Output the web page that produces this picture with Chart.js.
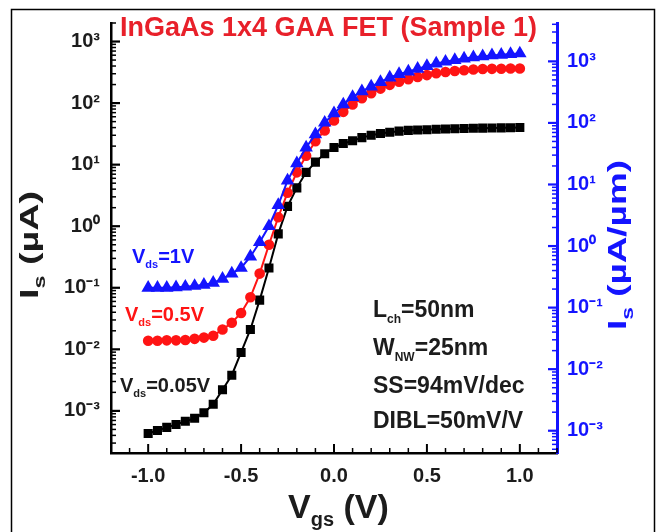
<!DOCTYPE html>
<html><head><meta charset="utf-8">
<script src="https://cdn.jsdelivr.net/npm/chart.js@4.4.1/dist/chart.umd.min.js"></script>
<style>html,body{margin:0;padding:0;background:#fff}#wrap{position:relative;width:660px;height:532px}</style>
</head><body><div id="wrap"><canvas id="c" width="660" height="532"></canvas></div>
<script>
// ---- data ----
const vgs = [-1.00,-0.95,-0.90,-0.85,-0.80,-0.75,-0.70,-0.65,-0.60,-0.55,-0.50,-0.45,-0.40,-0.35,-0.30,-0.25,-0.20,-0.15,-0.10,-0.05,0.00,0.05,0.10,0.15,0.20,0.25,0.30,0.35,0.40,0.45,0.50,0.55,0.60,0.65,0.70,0.75,0.80,0.85,0.90,0.95,1.00];
const isVds005 = [4.3e-4,4.8e-4,5.4e-4,6.0e-4,6.8e-4,7.6e-4,9.3e-4,1.28e-3,2.2e-3,3.8e-3,8.9e-3,0.021,0.063,0.21,0.75,2.1,4.2,7.5,11,15,19,22,24.5,27.5,30,32,33.5,35,36,36.5,37,37.5,38,38.3,38.6,39,39.2,39.4,39.6,39.8,40];
const isVds05 = [0.0138,0.0138,0.014,0.014,0.0142,0.0148,0.0155,0.0166,0.021,0.027,0.039,0.07,0.17,0.5,1.4,3.5,7.5,14,24,36,52,72,95,120,145,172,198,222,245,265,285,305,320,332,342,352,357,360,362,364,365];
const isVds1 = [0.1,0.1,0.1,0.102,0.104,0.107,0.112,0.12,0.14,0.17,0.21,0.32,0.55,1.0,2.2,5.5,10.5,19,31,48,68,95,125,155,185,220,260,295,325,360,400,440,470,500,530,555,575,595,610,625,640];
const xTickValues = [-1.0,-0.5,0.0,0.5,1.0];
const xTickLabels = ['-1.0','-0.5','0.0','0.5','1.0'];
const yDecades = [1e-3,1e-2,1e-1,1,1e1,1e2,1e3];
const yTickLabels = ['10\u207B\u00B3','10\u207B\u00B2','10\u207B\u00B9','10\u2070','10\u00B9','10\u00B2','10\u00B3'];
const leftMin = 2.07e-4, leftMax = 2000;   // I_s (µA) axis range
const perWireFactor = 2.1;                  // right axis (µA/µm) = left × factor

const FONT = '"Liberation Sans", Arial, Helvetica, sans-serif';
const BLUE = '#1414ff', RED = '#ff1414', BLACK = '#000000', TXT = '#1c1c1c';

function decadeLabel(v){
  const i = yDecades.findIndex(d => Math.abs(Math.log10(d) - Math.log10(v)) < 1e-6);
  return i >= 0 ? yTickLabels[i] : '';
}

function rich(ctx, parts, x, y, color){
  let cx = x;
  ctx.fillStyle = color;
  ctx.textBaseline = 'alphabetic';
  ctx.textAlign = 'left';
  for (const p of parts){
    ctx.font = 'bold ' + p.s + 'px ' + FONT;
    ctx.fillText(p.t, cx, y + (p.dy || 0));
    cx += ctx.measureText(p.t).width;
  }
  return cx - x;
}
function richWidth(ctx, parts){
  let w = 0;
  for (const p of parts){ ctx.font = 'bold ' + p.s + 'px ' + FONT; w += ctx.measureText(p.t).width; }
  return w;
}

const deco = {
  id: 'deco',
  beforeDraw(chart){
    const c = chart.ctx;
    c.save();
    c.fillStyle = '#fff'; c.fillRect(0,0,chart.width,chart.height);
    c.strokeStyle = '#000'; c.lineWidth = 1.5;
    c.strokeRect(11.5, 9.5, 643, 600);
    c.restore();
  },
  afterDraw(chart){
    const c = chart.ctx, a = chart.chartArea, sx = chart.scales.x, sy = chart.scales.y, sy2 = chart.scales.y2;
    c.save();
    // inward ticks, left axis
    c.strokeStyle = BLACK;
    for (let n = -4; n <= 3; n++){
      for (let m = 1; m <= 9; m++){
        const v = m * Math.pow(10, n);
        if (v < sy.min || v > sy.max) continue;
        const py = sy.getPixelForValue(v);
        c.lineWidth = m === 1 ? 2.2 : 1.5;
        c.beginPath(); c.moveTo(a.left, py); c.lineTo(a.left + (m === 1 ? 9 : 5), py); c.stroke();
      }
    }
    // inward ticks, right axis
    c.strokeStyle = BLUE;
    for (let n = -4; n <= 4; n++){
      for (let m = 1; m <= 9; m++){
        const v = m * Math.pow(10, n);
        if (v < sy2.min || v > sy2.max) continue;
        const py = sy2.getPixelForValue(v);
        c.lineWidth = m === 1 ? 2.2 : 1.5;
        c.beginPath(); c.moveTo(a.right, py); c.lineTo(a.right - (m === 1 ? 9 : 5), py); c.stroke();
      }
    }
    // inward ticks, x axis
    c.strokeStyle = BLACK;
    for (let k = -12; k <= 12; k++){
      const v = k / 10;
      const px = sx.getPixelForValue(v);
      const major = (k % 5 === 0);
      c.lineWidth = major ? 2 : 1.5;
      c.beginPath(); c.moveTo(px, a.bottom); c.lineTo(px, a.bottom - (major ? 9 : 5)); c.stroke();
    }
    // chart title
    rich(c, [{t:'InGaAs 1x4 GAA FET (Sample 1)', s:27}], 120, 36, '#e8202a');
    // x title
    rich(c, [{t:'V', s:34}, {t:'gs', s:20, dy:8}, {t:' (V)', s:34}], 288, 518, TXT);
    // left y title
    const lp = [{t:'I', s:26}, {t:'s', s:16, dy:7}, {t:' (\u00B5A)', s:26}];
    let w = richWidth(c, lp);
    c.save(); c.translate(38, 245); c.rotate(-Math.PI/2); c.scale(108 / w, 1);
    rich(c, lp, -w/2, 0, TXT); c.restore();
    // right y title
    const rp = [{t:'I', s:26}, {t:'s', s:16, dy:7}, {t:' (\u00B5A/\u00B5m)', s:26}];
    w = richWidth(c, rp);
    c.save(); c.translate(626, 245); c.rotate(-Math.PI/2); c.scale(170 / w, 1);
    rich(c, rp, -w/2, 0, BLUE); c.restore();
    // curve annotations
    rich(c, [{t:'V', s:20}, {t:'ds', s:11, dy:5}, {t:'=1V', s:20}], 132, 263, BLUE);
    rich(c, [{t:'V', s:20}, {t:'ds', s:11, dy:5}, {t:'=0.5V', s:20}], 125, 321, RED);
    rich(c, [{t:'V', s:20}, {t:'ds', s:11, dy:5}, {t:'=0.05V', s:20}], 120, 392, TXT);
    // device parameters
    rich(c, [{t:'L', s:23}, {t:'ch', s:12, dy:6}, {t:'=50nm', s:23}], 373, 317, TXT);
    rich(c, [{t:'W', s:23}, {t:'NW', s:12, dy:6}, {t:'=25nm', s:23}], 373, 355, TXT);
    rich(c, [{t:'SS=94mV/dec', s:23}], 373, 393, TXT);
    rich(c, [{t:'DIBL=50mV/V', s:23}], 373, 428, TXT);
    c.restore();
  }
};

const pts = arr => vgs.map((x, i) => ({x: x, y: arr[i]}));

new Chart(document.getElementById('c'), {
  type: 'line',
  data: {
    datasets: [
      {label:'Vds=1V', data: pts(isVds1), borderColor: BLUE, backgroundColor: BLUE, pointBorderColor: BLUE,
       pointStyle:'triangle', pointRadius:5.8, borderWidth:2, tension:0, yAxisID:'y', order:0},
      {label:'Vds=0.5V', data: pts(isVds05), borderColor: RED, backgroundColor: RED, pointBorderColor: RED,
       pointStyle:'circle', pointRadius:4.3, borderWidth:2, tension:0, yAxisID:'y', order:1},
      {label:'Vds=0.05V', data: pts(isVds005), borderColor: BLACK, backgroundColor: BLACK, pointBorderColor: BLACK,
       pointStyle:'rect', pointRadius:5, borderWidth:2, tension:0, yAxisID:'y', order:2}
    ]
  },
  options: {
    responsive: false, animation: false, devicePixelRatio: 1,
    layout: {padding: {top: 13, left: 0, right: 0, bottom: 0}},
    plugins: {legend: {display: false}, tooltip: {enabled: false}},
    elements: {point: {borderWidth: 1}},
    scales: {
      x: {
        type: 'linear', position: 'bottom', min: -1.2, max: 1.2,
        grid: {display: false, drawTicks: false},
        border: {display: true, color: BLACK, width: 2.5},
        ticks: {autoSkip: false, maxRotation: 0, padding: 11, color: TXT,
          font: {family: FONT, size: 20, weight: 'bold'},
          callback: v => { const i = xTickValues.findIndex(t => Math.abs(t - v) < 1e-9); return i >= 0 ? xTickLabels[i] : ''; }},
        afterBuildTicks: s => { s.ticks = xTickValues.map(v => ({value: v})); },
        afterFit: s => { s.height = 79; }
      },
      y: {
        type: 'logarithmic', position: 'left', min: leftMin, max: leftMax,
        grid: {display: false, drawTicks: false},
        border: {display: true, color: BLACK, width: 2.5},
        ticks: {autoSkip: false, padding: 11, color: TXT, font: {family: FONT, size: 20, weight: 'bold'},
          callback: v => decadeLabel(v)},
        afterBuildTicks: s => { s.ticks = yDecades.map(v => ({value: v})); },
        afterFit: s => { s.width = 111; }
      },
      y2: {
        type: 'logarithmic', position: 'right', display: true,
        min: leftMin * perWireFactor, max: leftMax * perWireFactor,
        grid: {display: false, drawTicks: false},
        border: {display: true, color: BLUE, width: 3},
        ticks: {autoSkip: false, padding: 10, color: BLUE, font: {family: FONT, size: 20, weight: 'bold'},
          callback: v => decadeLabel(v)},
        afterBuildTicks: s => { s.ticks = yDecades.map(v => ({value: v})); },
        afterFit: s => { s.width = 103; }
      }
    }
  },
  plugins: [deco]
});
</script>
</body></html>
